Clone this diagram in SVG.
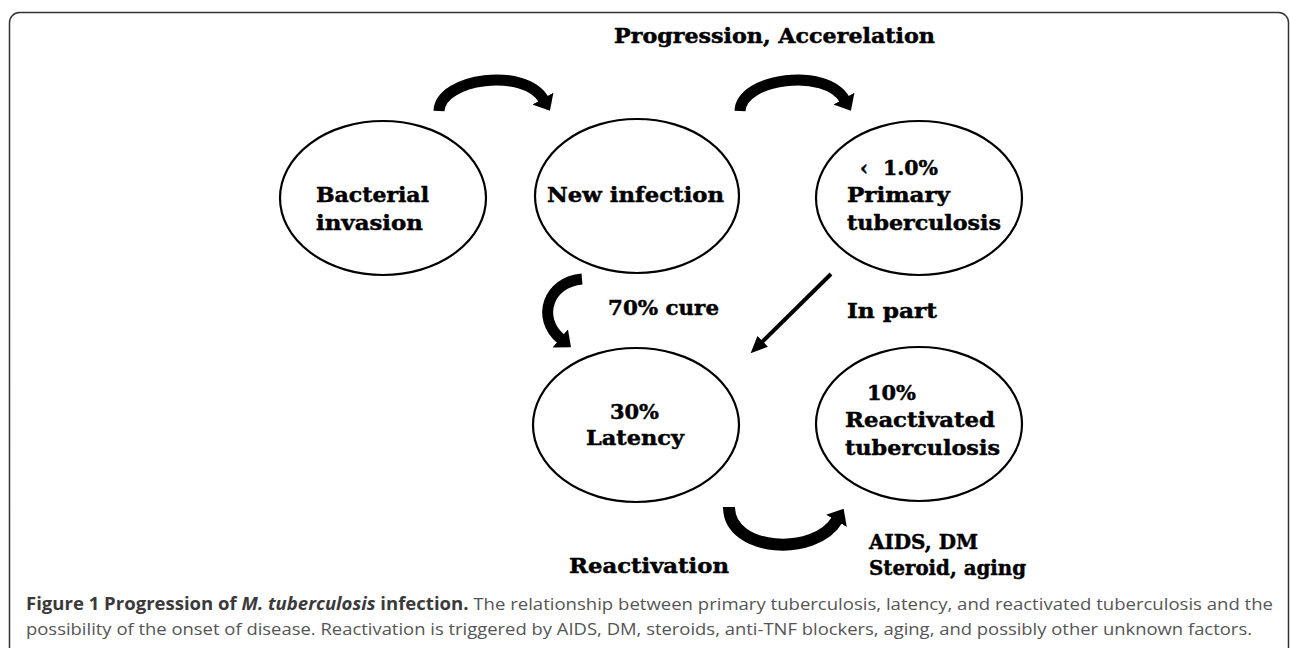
<svg xmlns="http://www.w3.org/2000/svg" width="1290" height="648" viewBox="0 0 1290 648">
<defs>
<style>
.node ellipse{fill:#fff;stroke:#000;stroke-width:2.2}
.lbl{font-family:"DejaVu Serif","Liberation Serif",serif;font-weight:bold;font-size:20px;fill:#000;stroke:#000;stroke-width:0.45}
.arc{fill:none;stroke:#000;stroke-linecap:butt}
.cap{font-family:"Open Sans","Liberation Sans",sans-serif;font-size:17px;fill:#555}
.capb{font-weight:bold;fill:#3a3a3a}
</style>
<marker id="head" markerUnits="userSpaceOnUse" markerWidth="14" markerHeight="24" viewBox="0 0 14 24" refX="1" refY="12" orient="auto">
<path d="M0,0 L14,12 L0,24 Z" fill="#000"/>
</marker>
<marker id="headThin" markerUnits="userSpaceOnUse" markerWidth="17" markerHeight="15" viewBox="0 0 17 15" refX="1" refY="7.5" orient="auto">
<path d="M0,0 L17,7.5 L0,15 Z" fill="#000"/>
</marker>
</defs>
<rect width="1290" height="648" fill="#fff"/>
<rect x="9.5" y="12.5" width="1279" height="720" rx="10" fill="none" stroke="#333" stroke-width="1.5"/>

<text class="lbl" x="614" y="43" textLength="321" lengthAdjust="spacingAndGlyphs">Progression, Accerelation</text>

<g id="connectors">
<path class="arc" stroke-width="11" d="M439 111 C440 78 525 67 543.5 99.5" marker-end="url(#head)"/>
<path class="arc" stroke-width="11" d="M740 111 C741 78 826 67 844.5 99.5" marker-end="url(#head)"/>
<path class="arc" stroke-width="11" d="M582 279 C548 282 536 318 561 339" marker-end="url(#head)"/>
<path class="arc" stroke-width="4" d="M831 274 L762 342" marker-end="url(#headThin)"/>
<path class="arc" stroke-width="12" d="M729 507 C729 552 815 557 837 520" marker-end="url(#head)"/>
<text class="lbl" x="608" y="315" textLength="111" lengthAdjust="spacingAndGlyphs">70% cure</text>
<text class="lbl" x="847" y="318" textLength="90" lengthAdjust="spacingAndGlyphs">In part</text>
<text class="lbl" x="569" y="573" textLength="160" lengthAdjust="spacingAndGlyphs">Reactivation</text>
<text class="lbl" x="869" y="549" textLength="109" lengthAdjust="spacingAndGlyphs">AIDS, DM</text>
<text class="lbl" x="869" y="575" textLength="157" lengthAdjust="spacingAndGlyphs">Steroid, aging</text>
</g>

<g id="bacterial-invasion" class="node">
<ellipse cx="383" cy="198" rx="103" ry="77"/>
<text class="lbl" x="316" y="202" textLength="113" lengthAdjust="spacingAndGlyphs">Bacterial</text>
<text class="lbl" x="316" y="230" textLength="107" lengthAdjust="spacingAndGlyphs">invasion</text>
</g>

<g id="new-infection" class="node">
<ellipse cx="637" cy="196" rx="102" ry="77"/>
<text class="lbl" x="547" y="202" textLength="177" lengthAdjust="spacingAndGlyphs">New infection</text>
</g>

<g id="primary-tuberculosis" class="node">
<ellipse cx="919" cy="198" rx="103" ry="77"/>
<text class="lbl" x="860" y="175">‹<tspan x="883" textLength="55" lengthAdjust="spacingAndGlyphs">1.0%</tspan></text>
<text class="lbl" x="847" y="202" textLength="103" lengthAdjust="spacingAndGlyphs">Primary</text>
<text class="lbl" x="847" y="230" textLength="154" lengthAdjust="spacingAndGlyphs">tuberculosis</text>
</g>

<g id="latency" class="node">
<ellipse cx="636" cy="425" rx="103" ry="77"/>
<text class="lbl" x="610" y="419" textLength="49" lengthAdjust="spacingAndGlyphs">30%</text>
<text class="lbl" x="586" y="445" textLength="98" lengthAdjust="spacingAndGlyphs">Latency</text>
</g>

<g id="reactivated-tuberculosis" class="node">
<ellipse cx="919" cy="424" rx="103" ry="77"/>
<text class="lbl" x="867" y="400" textLength="49" lengthAdjust="spacingAndGlyphs">10%</text>
<text class="lbl" x="845" y="427" textLength="150" lengthAdjust="spacingAndGlyphs">Reactivated</text>
<text class="lbl" x="845" y="455" textLength="155" lengthAdjust="spacingAndGlyphs">tuberculosis</text>
</g>

<text class="cap" x="26" y="610" textLength="1247" lengthAdjust="spacingAndGlyphs"><tspan class="capb">Figure 1 Progression of <tspan font-style="italic">M. tuberculosis</tspan> infection.</tspan> The relationship between primary tuberculosis, latency, and reactivated tuberculosis and the</text>
<text class="cap" x="26" y="635" textLength="1226" lengthAdjust="spacingAndGlyphs">possibility of the onset of disease. Reactivation is triggered by AIDS, DM, steroids, anti-TNF blockers, aging, and possibly other unknown factors.</text>
</svg>
